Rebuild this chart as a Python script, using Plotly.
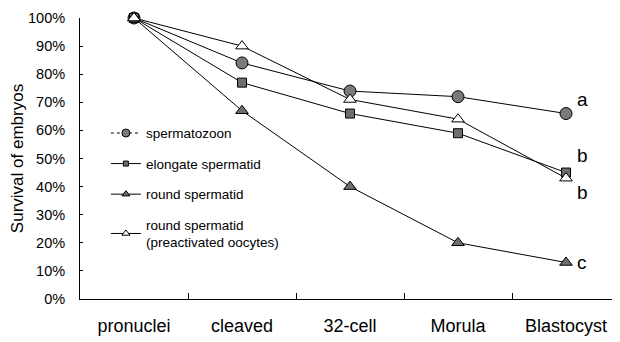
import plotly.graph_objects as go

stages = ["pronuclei", "cleaved", "32-cell", "Morula", "Blastocyst"]
spermatozoon = [100, 84, 74, 72, 66]
elongate = [100, 77, 66, 59, 45]
round_sp = [100, 67, 40, 20, 13]
preactivated = [100, 90, 71, 64, 43]
letters = ["a", "b", "b", "c"]
letter_y = [71, 51, 38, 13]

FONT = "Liberation Sans, Arial, sans-serif"
fig = go.Figure()

series = [
    ("spermatozoon", spermatozoon, "circle", 12, "#7a7a7a", "dot"),
    ("elongate spermatid", elongate, "square", 9, "#6e6e6e", "solid"),
    ("round spermatid", round_sp, "triangle-up", 11, "#6e6e6e", "solid"),
    ("round spermatid<br>(preactivated oocytes)", preactivated, "triangle-up", 11, "white", "solid"),
]
for i, (name, vals, sym, size, fill, dash) in enumerate(series):
    fig.add_trace(go.Scatter(
        x=stages, y=vals, mode="lines+markers", name=name,
        line=dict(color="black", width=1),
        marker=dict(symbol=sym, size=size, color=fill, line=dict(color="black", width=1)),
        showlegend=False, cliponaxis=False))
    fig.add_trace(go.Scatter(
        x=[None], y=[None], mode="lines+markers", name=name,
        line=dict(color="black", width=1, dash=dash),
        marker=dict(symbol=sym, size=size - 4, color=fill, line=dict(color="black", width=1)),
        legendgroup=str(i), showlegend=True))

for t, yv in zip(letters, letter_y):
    fig.add_annotation(x=4, y=yv, text=t, showarrow=False, xshift=16,
                       font=dict(size=19, color="black", family=FONT))

fig.update_layout(
    width=612, height=334,
    margin=dict(l=72, r=0, t=10, b=43),
    paper_bgcolor="white", plot_bgcolor="white",
    font=dict(family=FONT, color="black"),
    legend=dict(x=0.048, y=0.645, xanchor="left", yanchor="top",
                bgcolor="rgba(0,0,0,0)", font=dict(size=13.5, family=FONT),
                tracegroupgap=10, itemwidth=30),
    xaxis=dict(type="category", range=[-0.5, 4.5], showline=True, linecolor="black",
               linewidth=1, ticks="inside", ticklen=6, tickson="boundaries",
               tickcolor="black", tickfont=dict(size=18, family=FONT), showgrid=False,
               zeroline=False, automargin=False, ticklabelstandoff=10),
    yaxis=dict(range=[0, 100], dtick=10, ticksuffix="%", showline=True, linecolor="black",
               linewidth=1, ticks="inside", ticklen=3, tickcolor="black",
               tickfont=dict(size=14.5, family=FONT), showgrid=False, zeroline=False,
               automargin=False, ticklabelstandoff=11,
               title=dict(text="Survival of embryos", font=dict(size=17, family=FONT), standoff=6)),
)
fig.write_html("out.html")
